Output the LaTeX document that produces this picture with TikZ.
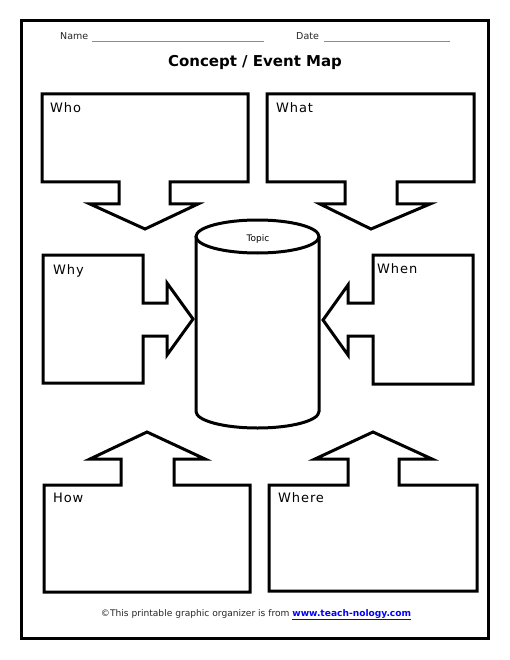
\documentclass[tikz,border=0pt]{standalone}
\usepackage{fontspec}
\setmainfont{DejaVu Sans}
\newfontfamily\spacedfont[LetterSpace=7]{DejaVu Sans}
\begin{document}
\begin{tikzpicture}[x=1pt,y=-1pt,
  shapeline/.style={line width=3pt,line join=miter,miter limit=10},
  lbl/.style={anchor=base west,inner sep=0pt,font=\spacedfont\fontsize{13}{15}\selectfont},
  small/.style={anchor=base west,inner sep=0pt,font=\fontsize{9.5}{11}\selectfont,text=black!85},
  rule/.style={line width=0.8pt,black!45}]
\useasboundingbox (0,0) rectangle (510,660);
% outer frame
\draw[line width=3pt] (21,21) rectangle (488,638);
% header
\node[small] (name) at (60,39.5) {Name};
\coordinate (nameA) at (92,41);
\coordinate (nameB) at (264,41);
\draw[rule] (nameA) -- (nameB);
\node[small] (date) at (296,39.5) {Date};
\coordinate (dateA) at (324,41);
\coordinate (dateB) at (450,41);
\draw[rule] (dateA) -- (dateB);
\node[anchor=base,inner sep=0pt,font=\bfseries\fontsize{15}{17}\selectfont] (title) at (255,66.5) {Concept / Event Map};
% Who
\draw[shapeline] (42,94) -- (248,94) -- (248,182) -- (170,182) -- (170,204) -- (198,204) -- (145,229) -- (90,204) -- (119,204) -- (119,182) -- (42,182) -- cycle;
\node[lbl] (who) at (50,113) {Who};
% What
\draw[shapeline] (267,94) -- (474,94) -- (474,182) -- (397,182) -- (397,204) -- (430,204) -- (371,229) -- (320,204) -- (345,204) -- (345,182) -- (267,182) -- cycle;
\node[lbl] (what) at (276,113) {What};
% Why
\draw[shapeline] (43,255) -- (143,255) -- (143,303) -- (167,303) -- (167,283) -- (193,319) -- (167,355) -- (167,336) -- (143,336) -- (143,383) -- (43,383) -- cycle;
\node[lbl] (why) at (53,274) {Why};
% When
\draw[shapeline] (473,255) -- (373,255) -- (373,303) -- (348,303) -- (348,285) -- (323,320) -- (348,355) -- (348,336) -- (373,336) -- (373,384) -- (473,384) -- cycle;
\node[lbl] (when) at (377,273) {When};
% How
\draw[shapeline] (44,485) -- (121,485) -- (121,459) -- (90,459) -- (147,432) -- (205,459) -- (174,459) -- (174,485) -- (250,485) -- (250,592) -- (44,592) -- cycle;
\node[lbl] (how) at (53,502) {How};
% Where
\draw[shapeline] (269,485) -- (348,485) -- (348,459) -- (315,459) -- (373,432) -- (432,459) -- (399,459) -- (399,485) -- (477,485) -- (477,591) -- (269,591) -- cycle;
\node[lbl] (where) at (278,502) {Where};
% cylinder
\draw[shapeline] (196,236.5) -- (196,411.5) arc[start angle=180,end angle=360,x radius=61.5,y radius=-16.5] -- (319,236.5);
\draw[shapeline] (257.5,236.5) ellipse[x radius=61.5,y radius=16.5];
\node[anchor=base,inner sep=0pt,font=\fontsize{9}{11}\selectfont] (topic) at (258,241) {Topic};
% footer
\node[anchor=base,inner sep=0pt,font=\fontsize{9.1}{11}\selectfont,text=black!85] (foot) at (256,616) {©This printable graphic organizer is from \textcolor{blue}{\bfseries\underline{www.teach-nology.com}}};
\end{tikzpicture}
\end{document}
